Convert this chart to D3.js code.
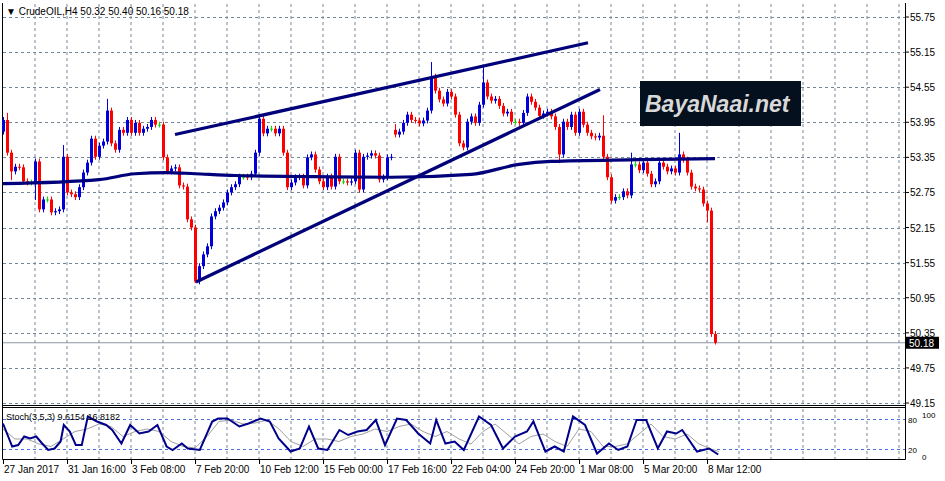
<!DOCTYPE html>
<html><head><meta charset="utf-8">
<script src="https://cdnjs.cloudflare.com/ajax/libs/d3/7.8.5/d3.min.js"></script>
<style>body{margin:0;background:#fff}svg{display:block;font-family:"Liberation Sans",Arial,sans-serif}</style>
</head><body><svg width="945" height="481"></svg>
<script>
// H4 closes, 27 Jan - 8 Mar 2017
var closes = [53.99,53.43,53.11,53.19,53.18,52.94,52.92,52.92,53.28,52.46,52.63,52.63,52.41,52.43,52.46,53.36,52.75,52.72,52.67,52.84,
53.09,53.26,53.67,53.36,53.55,53.62,54.15,53.59,53.48,53.82,53.77,53.99,53.77,53.94,53.77,53.84,53.87,53.99,53.91,53.91,
53.35,53.11,53.16,53.18,52.87,52.85,52.29,52.15,51.23,51.49,51.69,51.83,52.34,52.43,52.49,52.58,52.75,52.84,52.89,53.02,
53.02,53.01,53.07,53.43,54.01,53.76,53.84,53.84,53.76,53.84,53.43,52.84,52.92,53.01,53.02,52.87,53.35,53.40,53.14,52.94,
52.84,53.02,52.85,53.36,52.94,52.94,52.92,52.94,53.43,52.80,53.36,53.38,53.42,53.38,52.97,53.01,53.35,53.36,53.74,53.79,
53.94,54.08,53.99,53.98,53.93,53.98,54.15,54.73,54.49,54.34,54.27,54.47,54.39,54.08,53.59,53.52,53.96,54.05,53.94,54.25,
54.63,54.39,54.32,54.35,54.23,54.10,54.13,53.96,53.96,53.94,54.11,54.39,54.30,54.20,54.06,54.10,54.13,54.05,53.87,53.40,
53.96,53.87,54.08,53.77,54.13,53.91,53.77,53.71,53.69,53.72,53.36,53.01,52.61,52.67,52.67,52.77,52.70,53.23,53.23,53.13,
53.26,53.07,52.89,52.94,53.26,53.19,53.11,53.16,53.09,53.40,53.31,53.09,52.85,52.82,52.80,52.56,52.44,50.33,50.18];
var gapOpens = {0: 53.79, 98: 53.82};
var wickUp = {1: 0.12, 15: 0.2, 26: 0.2, 64: 0.08, 98: 0.1, 107: 0.25, 120: 0.3, 150: 0.35, 157: 0.2, 169: 0.37, 178: 0.05};
var wickDn = {2: 0.15, 8: 0.3, 9: 0.05, 48: 0.03, 139: 0.15, 176: 0.2, 177: 0.05, 178: 0.03};
var maPts = [[0,52.90],[24,52.97],[33,53.07],[41,53.09],[48,53.07],[58,53.04],[78,53.02],[97,53.01],[117,53.06],[129,53.23],[137,53.28],[159,53.31],[178,53.33]];
var upperLine = [[43,53.74],[146.25,55.31]];
var lowerLine = [[48.25,51.22],[149.25,54.51]];
var stochMain = [[0,71],[2.3,25],[3.8,28],[5.3,45],[6.8,41],[8.3,45],[9.8,31],[11.3,18],[12.9,21],[14.4,35],[15.2,68],[16.7,55],[18.2,28],[19.7,28],
[21.2,85],[23.5,75],[25.8,68],[27.3,58],[29.6,31],[31.8,68],[34.1,51],[36.4,55],[38.6,68],[40.9,25],[42.4,18],[44.7,31],[46.2,21],[49.2,18],
[52.3,75],[53.8,81],[56.1,81],[59.1,65],[61.4,71],[64.4,81],[66.7,75],[68.9,41],[71.9,15],[74.2,21],[76.5,65],[78.8,21],[81.1,18],[84.1,58],
[86.3,48],[88.6,55],[90.9,58],[93.2,78],[95.5,28],[98.5,81],[100.8,78],[103.8,51],[106.8,31],[108.3,78],[110.6,31],[112.9,35],[115.2,18],
[119,85],[122,68],[125,21],[128,45],[131,55],[132.6,75],[135.6,15],[137.9,25],[140.2,15],[142.5,85],[145.5,68],[148.5,11],[151.5,31],
[153.8,18],[156.1,25],[158.4,78],[160.8,78],[163.7,21],[166,55],[168.3,51],[169.8,58],[173.5,15],[176.5,21],[178.8,9]];
var stochSignal = [[0,60],[3,40],[6,40],[9,30],[12,25],[15,40],[18,55],[21,60],[24,70],[27,65],[30,45],[33,55],[36,60],[39,55],[42,35],[45,25],
[48,22],[51,45],[54,75],[57,78],[60,70],[63,72],[66,78],[69,60],[72,35],[75,25],[78,40],[81,40],[84,35],[87,45],[90,50],[93,60],[96,55],
[99,65],[102,70],[105,55],[108,45],[111,55],[114,40],[117,30],[120,55],[123,70],[126,50],[129,30],[132,45],[135,50],[138,35],[141,25],
[144,60],[147,55],[150,25],[153,25],[156,30],[159,50],[162,70],[165,45],[168,40],[171,50],[174,30],[177,20],[179,15]];
var priceTicks = [55.75,55.15,54.55,53.95,53.35,52.75,52.15,51.55,50.95,50.35,49.75,49.15];
var stochTicks = [100, 80, 20, 0];
var dateLabels = ["27 Jan 2017","31 Jan 16:00","3 Feb 08:00","7 Feb 20:00","10 Feb 12:00","15 Feb 00:00","17 Feb 16:00",
"22 Feb 04:00","24 Feb 20:00","1 Mar 08:00","5 Mar 20:00","8 Mar 12:00"];

var svg = d3.select("svg");
var x = d3.scaleLinear().domain([0, 176]).range([3, 707]);
var y = d3.scaleLinear().domain([49.15, 55.75]).range([403, 17]);
var ys = d3.scaleLinear().domain([0, 100]).range([459, 409]);
var gridC = "#778899";

// grid
var vIdx = d3.range(8, 226, 8);
svg.append("g").selectAll("line").data(vIdx).join("line")
  .attr("x1", d => x(d)).attr("x2", d => x(d)).attr("y1", 4).attr("y2", 405)
  .attr("stroke", gridC).attr("stroke-dasharray", "3,3");
svg.append("g").selectAll("line").data(vIdx).join("line")
  .attr("x1", d => x(d)).attr("x2", d => x(d)).attr("y1", 409).attr("y2", 459)
  .attr("stroke", gridC).attr("stroke-dasharray", "3,3");
svg.append("g").selectAll("line").data(priceTicks).join("line")
  .attr("x1", 3).attr("x2", 905).attr("y1", d => Math.round(y(d)) + 0.5).attr("y2", d => Math.round(y(d)) + 0.5)
  .attr("stroke", gridC).attr("stroke-dasharray", "3,3");
svg.append("g").selectAll("line").data([80, 20]).join("line")
  .attr("x1", 3).attr("x2", 905).attr("y1", d => ys(d) + 0.5).attr("y2", d => ys(d) + 0.5)
  .attr("stroke", "#4a6fe0").attr("stroke-dasharray", "3,3");

// frames
svg.append("path").attr("fill", "none").attr("stroke", "#000")
  .attr("d", "M2.5,3 V459.5 H905.5 V3 M2.5,405.5 H905.5 M2.5,407.5 H905.5");

// current price line
svg.append("line").attr("x1", 3).attr("x2", 905).attr("y1", y(50.18)).attr("y2", y(50.18)).attr("stroke", "#8a96a3");

// candles
var bars = closes.map(function (c, i) {
  var o = gapOpens[i] !== undefined ? gapOpens[i] : closes[i - 1];
  return {i: i, o: o, c: c, h: Math.max(o, c) + (wickUp[i] || 0.05), l: Math.min(o, c) - (wickDn[i] || 0.05)};
});
var col = d => Math.abs(d.c - d.o) < 0.005 ? "#00e000" : d.c > d.o ? "#0000d8" : "#ff0000";
var g = svg.append("g");
g.selectAll("line").data(bars).join("line")
  .attr("x1", d => x(d.i) + 0.5).attr("x2", d => x(d.i) + 0.5)
  .attr("y1", d => y(d.h)).attr("y2", d => y(d.l)).attr("stroke", col);
g.selectAll("rect").data(bars).join("rect")
  .attr("x", d => x(d.i) - 1).attr("width", 3)
  .attr("y", d => y(Math.max(d.o, d.c))).attr("height", d => Math.max(1, Math.abs(y(d.o) - y(d.c))))
  .attr("fill", col);

// MA + trendlines
var line = d3.line().x(d => x(d[0])).y(d => y(d[1]));
[maPts, upperLine, lowerLine].forEach(function (pts) {
  svg.append("path").datum(pts).attr("d", line.curve(pts.length > 2 ? d3.curveMonotoneX : d3.curveLinear))
    .attr("fill", "none").attr("stroke", "#00007a").attr("stroke-width", 3.2);
});

// stochastic
var sline = d3.line().x(d => x(d[0])).y(d => ys(d[1]));
svg.append("path").datum(stochSignal).attr("d", sline).attr("fill", "none").attr("stroke", "#a0a0a0").attr("stroke-width", 1);
svg.append("path").datum(stochMain).attr("d", sline).attr("fill", "none").attr("stroke", "#00008b").attr("stroke-width", 2);

// price axis
svg.append("g").selectAll("text").data(priceTicks).join("text")
  .attr("x", 910).attr("y", d => y(d) + 4).attr("font-size", 10).text(d => d.toFixed(2));
svg.append("g").selectAll("line").data(priceTicks).join("line")
  .attr("x1", 905).attr("x2", 909).attr("y1", d => y(d)).attr("y2", d => y(d)).attr("stroke", "#000");
svg.append("rect").attr("x", 906).attr("y", y(50.18) - 6).attr("width", 33).attr("height", 12).attr("fill", "#000");
svg.append("text").attr("x", 909).attr("y", y(50.18) + 4).attr("fill", "#fff").attr("font-size", 10).text("50.18");
svg.append("g").selectAll("text").data(stochTicks).join("text")
  .attr("x", d => (d === 100 || d === 0) ? 922 : 908).attr("y", d => d === 100 ? 418 : d === 0 ? 460 : ys(d) + 4)
  .attr("font-size", 8).text(d => d);

// time axis
svg.append("g").selectAll("text").data(dateLabels).join("text")
  .attr("x", (d, i) => x(i * 16) + 1).attr("y", 473).attr("font-size", 10).text(d => d);
svg.append("g").selectAll("line").data(dateLabels).join("line")
  .attr("x1", (d, i) => x(i * 16) + 0.5).attr("x2", (d, i) => x(i * 16) + 0.5).attr("y1", 459).attr("y2", 464).attr("stroke", "#000");

// captions
svg.append("text").attr("x", 6).attr("y", 15).attr("font-size", 10).text("\u25BC CrudeOIL,H4  50.32 50.40 50.16 50.18");
svg.append("text").attr("x", 6).attr("y", 420).attr("font-size", 9).text("Stoch(3,5,3) 9.6154 16.8182");

// watermark
svg.append("rect").attr("x", 640).attr("y", 81).attr("width", 161).attr("height", 45).attr("fill", "#04101e");
svg.append("text").attr("x", 645).attr("y", 112).attr("font-size", 23).attr("font-style", "italic").attr("font-weight", "bold")
  .attr("fill", "#d8d8d8").attr("font-family", "Liberation Sans").text("BayaNaai.net");
</script></body></html>
